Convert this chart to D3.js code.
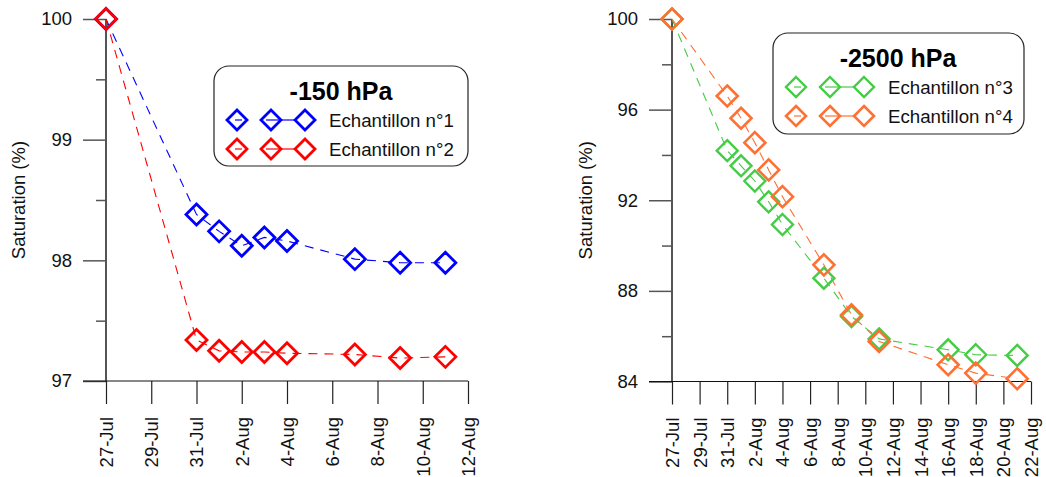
<!DOCTYPE html>
<html><head><meta charset="utf-8">
<script src="https://cdn.jsdelivr.net/npm/d3@7"></script>
<style>
html,body{margin:0;padding:0;background:#fff;}
svg{display:block;font-family:"Liberation Sans",Arial,sans-serif;}
</style></head>
<body>
<svg id="c" width="1046" height="477"></svg>
<script>
// ---- data ----
const datesA = ["2015-07-27","2015-07-31","2015-08-01","2015-08-02","2015-08-03","2015-08-04","2015-08-07","2015-08-09","2015-08-11"];
const ech1 = [100, 98.38, 98.24, 98.12, 98.19, 98.16, 98.01, 97.98, 97.98];
const ech2 = [100, 97.34, 97.25, 97.24, 97.24, 97.23, 97.22, 97.19, 97.20];
const datesB = ["2015-07-27","2015-07-31","2015-08-01","2015-08-02","2015-08-03","2015-08-04","2015-08-07","2015-08-09","2015-08-11","2015-08-16","2015-08-18","2015-08-21"];
const ech3 = [100, 94.19, 93.52, 92.85, 91.93, 90.93, 88.56, 86.87, 85.88, 85.40, 85.18, 85.15];
const ech4 = [100, 96.60, 95.62, 94.54, 93.34, 92.16, 89.15, 86.94, 85.77, 84.74, 84.37, 84.12];
const yTicksA = [97, 98, 99, 100];
const yMinorA = [97.5, 98.5, 99.5];
const yTicksB = [84, 88, 92, 96, 100];
const yMinorB = [86, 90, 94, 98];
const titleA = "-150 hPa", titleB = "-2500 hPa";
const namesA = ["Echantillon n°1", "Echantillon n°2"];
const namesB = ["Echantillon n°3", "Echantillon n°4"];
const yLabel = "Saturation (%)";

const svg = d3.select("#c");
const parse = d3.utcParse("%Y-%m-%d");
const fmt = d => d3.utcFormat("%-d-%b")(d);

function panel(cfg) {
  const g = svg.append("g");
  const start = parse(cfg.xStart), end = parse(cfg.xEnd);
  const x = d3.scaleUtc().domain([start, end]).range([cfg.x0, cfg.x1]);
  const y = d3.scaleLinear().domain(cfg.yDom).range([cfg.yBottom, cfg.yTop]);
  const xTicks = d3.utcDay.range(start, d3.utcDay.offset(end, 1), 2);

  // y axis major
  const ya = g.append("g").attr("transform", `translate(${cfg.x0},0)`)
    .call(d3.axisLeft(y).tickValues(cfg.yTicks).tickSize(cfg.majorLen).tickPadding(11).tickFormat(d3.format("d")));
  ya.select(".domain").remove();
  ya.selectAll("line").attr("stroke", "#555").attr("stroke-width", 1.5);
  ya.selectAll("text").attr("font-size", 18.5).attr("fill", "#111");
  const ym = g.append("g").attr("transform", `translate(${cfg.x0},0)`)
    .call(d3.axisLeft(y).tickValues(cfg.yMinor).tickSize(10).tickFormat(""));
  ym.select(".domain").remove();
  ym.selectAll("line").attr("stroke", "#555").attr("stroke-width", 1.5);
  g.append("line").attr("x1", cfg.x0).attr("x2", cfg.x0).attr("y1", cfg.yTop).attr("y2", cfg.yBottom)
    .attr("stroke", "#555").attr("stroke-width", 2);

  // x axis
  const xa = g.append("g").attr("transform", `translate(0,${cfg.yBottom})`)
    .call(d3.axisBottom(x).tickValues(xTicks).tickSize(23).tickPadding(0).tickFormat(fmt));
  xa.select(".domain").remove();
  xa.selectAll("line").attr("stroke", "#222").attr("stroke-width", 1.2);
  xa.selectAll("text").attr("font-size", 18.5).attr("fill", "#111")
    .attr("text-anchor", "end").attr("transform", "rotate(-90)")
    .attr("x", -36).attr("y", 0).attr("dy", "0.35em");
  g.append("line").attr("x1", cfg.x0 - cfg.majorLen).attr("x2", cfg.x1).attr("y1", cfg.yBottom).attr("y2", cfg.yBottom)
    .attr("stroke", "#111").attr("stroke-width", 1.2);

  // y label
  g.append("text").attr("transform", `translate(${cfg.labelX},${(cfg.yTop + cfg.yBottom) / 2}) rotate(-90)`)
    .attr("text-anchor", "middle").attr("dy", "0.35em").attr("font-size", 18.5).attr("fill", "#111").text(yLabel);

  // series
  cfg.series.forEach(s => {
    const pts = cfg.dates.map((d, i) => [x(parse(d)), y(s.values[i])]);
    g.append("path").attr("d", d3.line()(pts)).attr("fill", "none")
      .attr("stroke", s.color).attr("stroke-width", 1.1).attr("stroke-dasharray", "9,7");
  });
  cfg.series.forEach(s => {
    const pts = cfg.dates.map((d, i) => [x(parse(d)), y(s.values[i])]);
    g.selectAll(null).data(pts).enter().append("path")
      .attr("d", p => diamond(p[0], p[1], 10.5)).attr("fill", "none")
      .attr("stroke", s.color).attr("stroke-width", s.sw);
  });

  // legend
  const L = cfg.legend;
  g.append("rect").attr("x", L.x).attr("y", L.y).attr("width", L.w).attr("height", L.h)
    .attr("rx", 15).attr("fill", "#fff").attr("stroke", "#222").attr("stroke-width", 1.2);
  g.append("text").attr("x", L.x + L.titleDx).attr("y", L.y + 34).attr("text-anchor", "middle")
    .attr("font-size", 25).attr("font-weight", "bold").attr("fill", "#000").text(L.title);
  cfg.series.forEach((s, i) => {
    const cy = L.y + 54 + i * 29;
    const xs = [L.x + 23, L.x + 57, L.x + 91];
    const h = 10;
    g.append("line").attr("x1", xs[0] - 2).attr("x2", xs[0] + 5).attr("y1", cy).attr("y2", cy)
      .attr("stroke", s.color).attr("stroke-width", 1.2);
    g.append("line").attr("x1", xs[1] - 5).attr("x2", xs[2] - h).attr("y1", cy).attr("y2", cy)
      .attr("stroke", s.color).attr("stroke-width", 1.2);
    xs.forEach(xx => g.append("path").attr("d", diamond(xx, cy, h)).attr("fill", "none")
      .attr("stroke", s.color).attr("stroke-width", s.sw));
    g.append("text").attr("x", L.x + 115).attr("y", cy).attr("dy", "0.35em")
      .attr("font-size", 18.7).attr("fill", "#111").text(s.name);
  });
}

function diamond(cx, cy, r) {
  return `M${cx},${cy - r}L${cx + r},${cy}L${cx},${cy + r}L${cx - r},${cy}Z`;
}

panel({
  xStart: "2015-07-27", xEnd: "2015-08-12", x0: 106, x1: 468,
  yDom: [97, 100], yTop: 19, yBottom: 381, majorLen: 23,
  yTicks: yTicksA, yMinor: yMinorA, labelX: 19, dates: datesA,
  series: [
    {name: namesA[0], values: ech1, color: "#0000ff", sw: 2.8},
    {name: namesA[1], values: ech2, color: "#ff0000", sw: 2.8}
  ],
  legend: {x: 214, y: 66, w: 254, h: 100, title: titleA, titleDx: 127}
});

panel({
  xStart: "2015-07-27", xEnd: "2015-08-22", x0: 672, x1: 1031,
  yDom: [84, 100], yTop: 19, yBottom: 381.5, majorLen: 23,
  yTicks: yTicksB, yMinor: yMinorB, labelX: 586, dates: datesB,
  series: [
    {name: namesB[0], values: ech3, color: "#44cc44", sw: 2.4},
    {name: namesB[1], values: ech4, color: "#ff7033", sw: 2.6}
  ],
  legend: {x: 773, y: 33, w: 251, h: 101, title: titleB, titleDx: 125}
});
</script>
</body></html>
